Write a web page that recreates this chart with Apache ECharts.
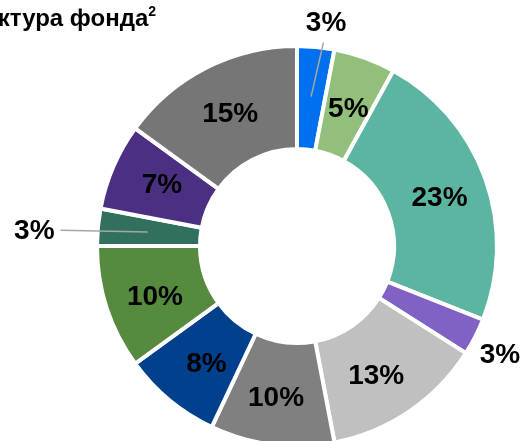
<!DOCTYPE html>
<html>
<head>
<meta charset="utf-8">
<script src="https://cdn.jsdelivr.net/npm/echarts@6/dist/echarts.min.js"></script>
<style>
html,body{margin:0;padding:0;background:#fff;}
#chart{width:525px;height:441px;}
</style>
</head>
<body>
<div id="chart"></div>
<script>
// Data
var titleText = 'Структура фонда';
var titleSup = '2';
var sliceNames = ['s1','s2','s3','s4','s5','s6','s7','s8','s9','s10','s11'];
var sliceValues = [3, 5, 23, 3, 13, 10, 8, 10, 3, 7, 15];
var sliceLabels = ['3%','5%','23%','3%','13%','10%','8%','10%','3%','7%','15%'];
// Styles
var sliceColors = ['#0070ef','#92bf7b','#5bb5a0','#7f62c4','#c0c0c0','#808080','#00408d','#558a3f','#31705f','#4a2f82','#767676'];
var outsideIdx = {0:true, 3:true, 8:true};
// small nudges of inside labels (layout only)
var labelNudge = {1:[0,6], 2:[0,4], 4:[-6,5], 5:[-2,2], 6:[6,2], 7:[2,4], 9:[4,-1], 10:[2,3]};

var CX = 297, CY = 246, R0 = 97, R1 = 200;
var total = sliceValues.reduce(function(a,b){return a+b;},0);
function midAngle(i){
  var before = 0;
  for (var k=0;k<i;k++) before += sliceValues[k];
  return (before + sliceValues[i]/2) / total * 360;
}
function polar(deg, r){
  var a = deg*Math.PI/180;
  return [CX + r*Math.sin(a), CY - r*Math.cos(a)];
}
var labelFont = {color:'#000', fontFamily:'Liberation Sans, Arial, sans-serif', fontWeight:'bold', fontSize:28};

var mainData = sliceValues.map(function(v,i){
  return {
    name: sliceNames[i],
    value: v,
    itemStyle: {color: sliceColors[i]},
    label: {show: !outsideIdx[i], formatter: sliceLabels[i], position:'inside'}
  };
});
var overlayData = sliceValues.map(function(v,i){
  return {
    name: sliceNames[i],
    value: v,
    itemStyle: {color:'rgba(0,0,0,0)', borderWidth:0},
    label: {show: !!outsideIdx[i], formatter: sliceLabels[i], position:'outside'},
    labelLine: {show: (i === 0 || i === 8), length:5, length2:5, lineStyle:{color:'#a6a6a6', width:1.5}}
  };
});

var chart = echarts.init(document.getElementById('chart'), null, {renderer:'canvas'});
chart.setOption({
  animation: false,
  backgroundColor: '#ffffff',
  title: {
    text: '{a|' + titleText + '}{s|' + titleSup + '}',
    left: -64,
    top: 0,
    textStyle: {
      rich: {
        a: {fontFamily:'Liberation Sans, Arial, sans-serif', fontWeight:'bold', fontSize:24, color:'#000', verticalAlign:'bottom', lineHeight:26},
        s: {fontFamily:'Liberation Sans, Arial, sans-serif', fontWeight:'bold', fontSize:14, color:'#000', verticalAlign:'top', lineHeight:26, padding:[0,0,10,0]}
      }
    }
  },
  series: [{
    type: 'pie',
    z: 2,
    center: [CX, CY],
    radius: [R0, R1],
    startAngle: 90,
    clockwise: true,
    avoidLabelOverlap: false,
    silent: true,
    itemStyle: {borderColor:'#ffffff', borderWidth:4},
    label: labelFont,
    labelLine: {show:false},
    emphasis: {disabled:true},
    labelLayout: function(p){
      var n = labelNudge[p.dataIndex];
      return n ? {dx:n[0], dy:n[1]} : {};
    },
    data: mainData
  }, {
    type: 'pie',
    z: 5,
    center: [CX, CY],
    radius: [R0, R1],
    startAngle: 90,
    clockwise: true,
    avoidLabelOverlap: false,
    silent: true,
    label: labelFont,
    emphasis: {disabled:true},
    labelLayout: function(p){
      var i = p.dataIndex;
      var m = midAngle(i);
      if (i === 0) {
        var s = polar(m, 150), e = polar(m+2, 205), c = polar(m+2, 226);
        return {x:c[0], y:c[1]+1, align:'center', verticalAlign:'middle', labelLinePoints:[s, e, e]};
      }
      if (i === 8) {
        var s2 = polar(m, 150), e2 = polar(m-1.6, 237), c2 = polar(m-1.6, 243);
        return {x:c2[0], y:c2[1]+1, align:'right', verticalAlign:'middle', labelLinePoints:[s2, e2, e2]};
      }
      if (i === 3) {
        var c3 = polar(m+1.5, 231);
        return {x:c3[0], y:c3[1]-1, align:'center', verticalAlign:'middle'};
      }
      return {};
    },
    data: overlayData
  }]
});
</script>
</body>
</html>
